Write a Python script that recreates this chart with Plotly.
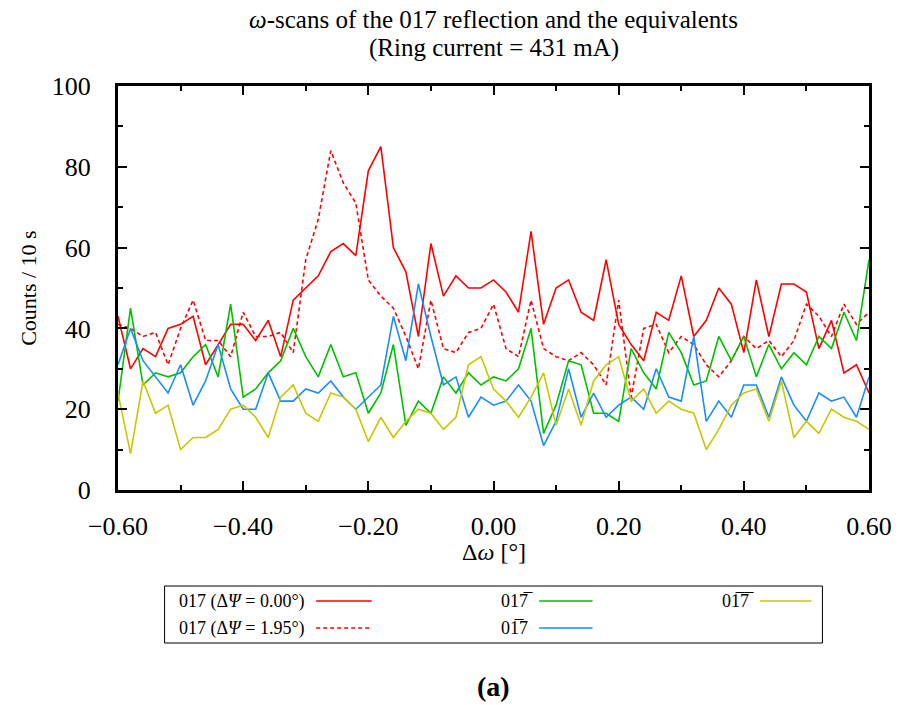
import plotly.graph_objects as go

# ---------------- data ----------------
delta_omega = [round(-0.60 + 0.02 * i, 2) for i in range(61)]

red_0_00 = [43, 30, 35, 33, 40, 41, 43, 31, 36, 41, 41, 37, 42, 33, 47, 50, 53, 59, 61, 58,
            79, 85, 60, 54, 38, 61, 48, 53, 50, 50, 52, 49, 44, 64, 41, 50, 52, 44, 42, 57,
            41, 36, 32, 44, 42, 53, 38, 42, 50, 46, 34, 52, 38, 51, 51, 49, 35, 42, 29, 31, 24]

red_1_95 = [41, 40, 38, 39, 31, 40, 47, 37, 37, 33, 44, 38, 38, 39, 34, 57, 67, 84, 76, 71,
            52, 48, 45, 38, 30, 47, 35, 34, 39, 40, 46, 35, 33, 47, 35, 33, 32, 34, 31, 26,
            47, 23, 40, 41, 34, 38, 36, 31, 28, 32, 38, 35, 37, 33, 37, 46, 43, 38, 46, 41, 44]

green_01m7 = [22, 45, 26, 29, 28, 29, 33, 36, 28, 46, 23, 25, 29, 32, 40, 33, 28, 36, 28, 29,
              19, 24, 36, 16, 22, 19, 28, 24, 29, 26, 28, 27, 30, 40, 14, 21, 32, 31, 19, 19,
              17, 35, 29, 25, 39, 34, 26, 27, 38, 32, 38, 28, 36, 30, 34, 31, 38, 35, 44, 37, 57]

blue_0m17 = [31, 40, 32, 28, 24, 31, 21, 27, 36, 25, 20, 20, 29, 22, 22, 25, 24, 27, 23, 20,
             23, 26, 43, 32, 51, 38, 26, 28, 18, 23, 21, 22, 26, 22, 11, 17, 30, 18, 24, 18,
             21, 23, 20, 30, 23, 22, 38, 17, 22, 18, 26, 26, 18, 28, 21, 17, 24, 22, 23, 18, 28]

yellow_0m1m7 = [24, 9, 27, 19, 21, 10, 13, 13, 15, 20, 21, 18, 13, 23, 26, 19, 17, 24, 23, 20,
                12, 18, 13, 17, 20, 19, 15, 18, 31, 33, 25, 22, 18, 23, 29, 16, 25, 16, 27, 31,
                33, 22, 25, 19, 22, 20, 19, 10, 15, 21, 24, 25, 17, 27, 13, 17, 14, 20, 18, 17, 15]

x_ticks = [-0.6, -0.4, -0.2, 0.0, 0.2, 0.4, 0.6]
y_ticks = [0, 20, 40, 60, 80, 100]

series = [
    ("017 (Δ<i>Ψ</i> = 0.00°)", red_0_00, "#ff0000", "solid"),
    ("017 (Δ<i>Ψ</i> = 1.95°)", red_1_95, "#ff0000", "4px,3px"),
    ("01" + "7\u0305", green_01m7, "#00c000", "solid"),
    ("0" + "1\u0305" + "7", blue_0m17, "#1a8cff", "solid"),
    ("0" + "1\u0305" + "7\u0305", yellow_0m1m7, "#c8c800", "solid"),
]

FONT = "Liberation Serif, Times New Roman, serif"

# plot area in pixels
L, R, T, B = 118, 876, 86, 490
W, H = 904, 705


def px(x):
    return (x - L) / (R - L)


def py(y):
    return (B - y) / (B - T)


fig = go.Figure()
for name, vals, col, dash in series:
    fig.add_trace(go.Scatter(x=delta_omega, y=vals, mode="lines", name=name,
                             line=dict(color=col, width=1.6, dash=dash),
                             showlegend=False))

axis_common = dict(showline=True, linewidth=3, linecolor="black", mirror="allticks",
                   ticks="inside", ticklen=9, tickwidth=1.5, tickcolor="black",
                   showgrid=False, zeroline=False,
                   tickfont=dict(family=FONT, size=26, color="black"))

fig.update_xaxes(range=[-0.6, 0.6], tickvals=x_ticks, tickformat=".2f",
                 minor=dict(dtick=0.1, tick0=-0.6, ticks="inside", ticklen=5,
                            tickwidth=1.5, tickcolor="black"),
                 ticklabelstandoff=11, **axis_common)
fig.update_yaxes(range=[0, 100], tickvals=y_ticks,
                 minor=dict(dtick=10, tick0=0, ticks="inside", ticklen=5,
                            tickwidth=1.5, tickcolor="black"),
                 ticklabelstandoff=19, **axis_common)

ann = []
ann.append(dict(text="<i>ω</i>-scans of the 017 reflection and the equivalents",
                x=0.5, y=py(19), xref="paper", yref="paper", showarrow=False,
                xanchor="center", yanchor="middle", font=dict(family=FONT, size=25, color="black")))
ann.append(dict(text="(Ring current = 431 mA)",
                x=0.5, y=py(48), xref="paper", yref="paper", showarrow=False,
                xanchor="center", yanchor="middle", font=dict(family=FONT, size=25, color="black")))
ann.append(dict(text="Δ<i>ω</i> [°]", x=0.5, y=py(552), xref="paper", yref="paper",
                showarrow=False, xanchor="center", yanchor="middle",
                font=dict(family=FONT, size=24, color="black")))
ann.append(dict(text="Counts / 10 s", x=px(27), y=py(288), xref="paper", yref="paper",
                showarrow=False, textangle=-90, xanchor="center", yanchor="middle",
                font=dict(family=FONT, size=22, color="black")))
ann.append(dict(text="<b>(a)</b>", x=0.5, y=py(686), xref="paper", yref="paper",
                showarrow=False, xanchor="center", yanchor="middle",
                font=dict(family=FONT, size=28, color="black")))

shapes = []
# legend box
shapes.append(dict(type="rect", xref="paper", yref="paper", x0=px(165), x1=px(829),
                   y0=py(643), y1=py(586), line=dict(color="black", width=1)))

legend_layout = [  # (text_x, row_y, line_x0, line_x1)
    (178, 601, 318, 374),
    (178, 628, 318, 374),
    (503, 601, 543, 597),
    (503, 628, 543, 597),
    (726, 601, 766, 818),
]
for (name, vals, col, dash), (tx, ry, lx0, lx1) in zip(series, legend_layout):
    ann.append(dict(text=name, x=px(tx), y=py(ry), xref="paper", yref="paper",
                    showarrow=False, xanchor="left", yanchor="middle",
                    font=dict(family=FONT, size=18, color="black")))
    shapes.append(dict(type="line", xref="paper", yref="paper", x0=px(lx0), x1=px(lx1),
                       y0=py(ry), y1=py(ry), line=dict(color=col, width=1.6, dash=dash)))

fig.update_layout(width=W, height=H, margin=dict(l=L, r=W - R, t=T, b=H - B),
                  paper_bgcolor="white", plot_bgcolor="white",
                  annotations=ann, shapes=shapes, showlegend=False,
                  font=dict(family=FONT, color="black"))

fig.write_html("out.html")
